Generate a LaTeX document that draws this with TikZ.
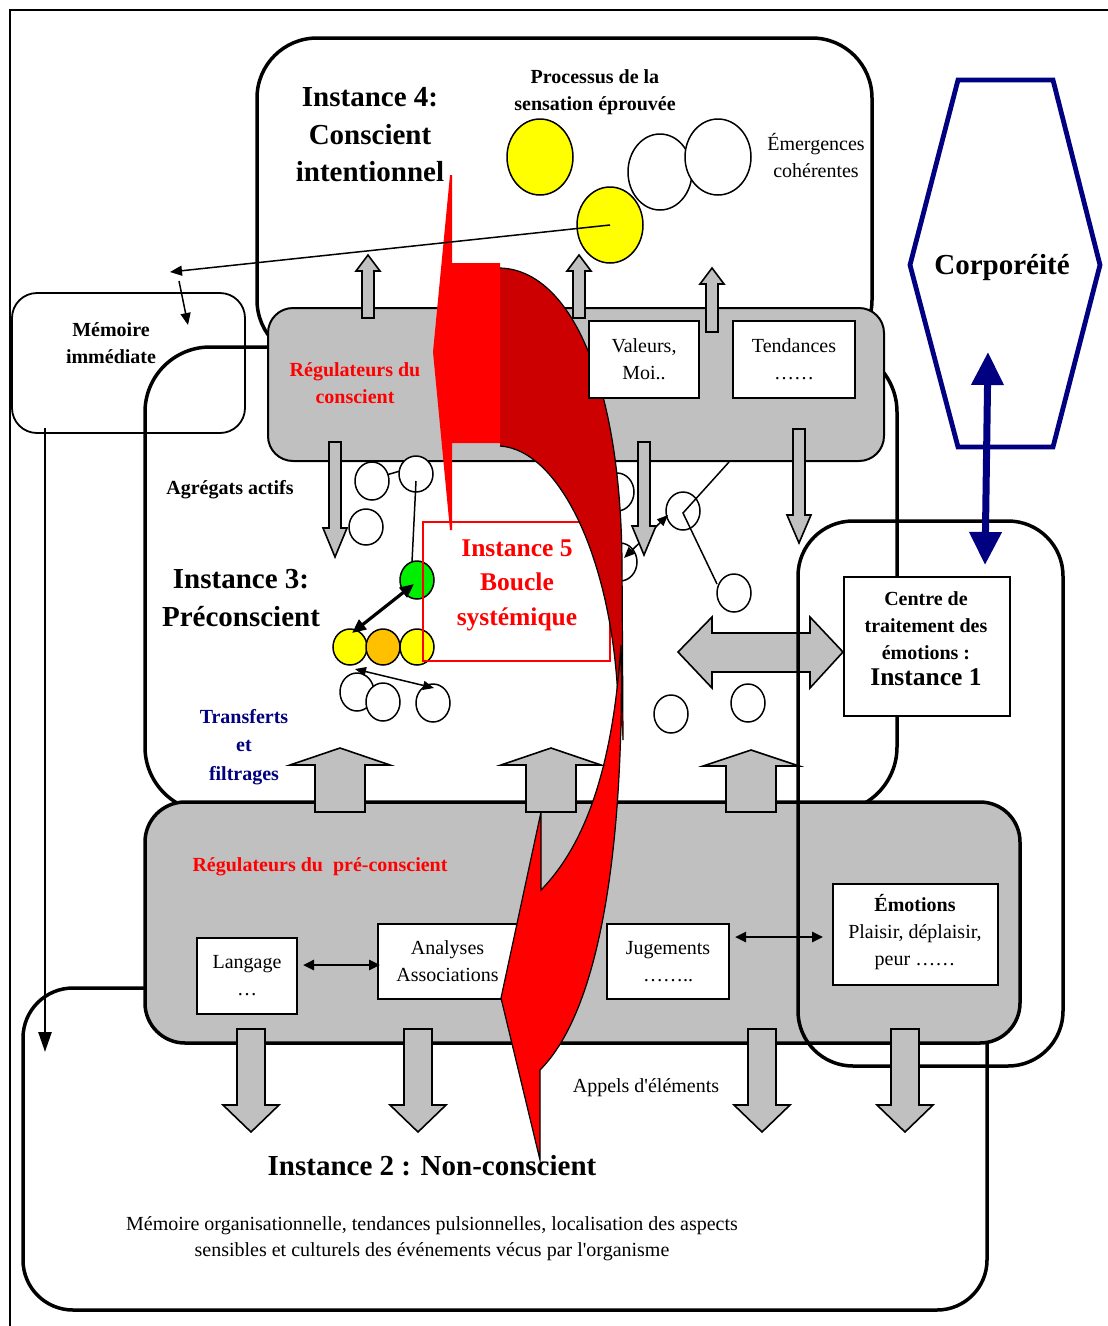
\documentclass[tikz,border=0pt]{standalone}
\usepackage{fontspec}
\setmainfont{Liberation Serif}
\usetikzlibrary{arrows.meta}
\definecolor{gr}{HTML}{C0C0C0}
\definecolor{rd}{HTML}{FF0000}
\definecolor{drd}{HTML}{CC0000}
\definecolor{nv}{HTML}{000080}
\definecolor{ylw}{HTML}{FFFF00}
\definecolor{org}{HTML}{FFC000}
\definecolor{grn}{HTML}{00EE00}
\newcommand\fbig{\fontsize{29}{37.5}\selectfont\bfseries}
\newcommand\fmid{\fontsize{20}{27}\selectfont}
\newcommand\fmidb{\fontsize{20}{27}\selectfont\bfseries}
\newcommand\ffive{\fontsize{25.5}{34.5}\selectfont\bfseries}
% block arrow: x, tip y, head base y, stem end y, head half width, stem half width
\newcommand{\vblock}[6]{\draw[garr] (#1,#2) -- (#1+#5,#3) -- (#1+#6,#3) -- (#1+#6,#4) -- (#1-#6,#4) -- (#1-#6,#3) -- (#1-#5,#3) -- cycle;}
\tikzset{
  garr/.style={fill=gr, draw=black, line width=1.6},
  circw/.style={fill=white, draw=black, line width=1.5},
  thickbox/.style={draw=black, line width=3.5},
  whitebox/.style={draw=black, fill=white, line width=1.5, inner sep=0, align=center},
  txt/.style={inner sep=0, align=center},
  sarr/.style={line width=1.5, -{Triangle[length=12pt,width=10pt]}},
  darr/.style={line width=2.5, {Triangle[length=11pt,width=10pt]}-{Triangle[length=11pt,width=10pt]}},
}
\begin{document}
\begin{tikzpicture}[x=1pt,y=-1pt,line join=miter]
\useasboundingbox (0,0) rectangle (1108,1326);
% outer frame
\draw[line width=1.5] (10,1326) -- (10,10) -- (1108,10);

% big instance boxes
\draw[thickbox, rounded corners=60] (257,38) rectangle (872,360);
\draw[thickbox, rounded corners=65] (145,347) rectangle (897,812);
\draw[thickbox, rounded corners=50] (23,988) rectangle (987,1310);
\draw[line width=1.8, rounded corners=25] (12,293) rectangle (245,433);
\node[txt, font=\fmidb] (mem) at (111,343) {Mémoire\\immédiate};

% instance 4 content
\filldraw[circw, fill=ylw] (540,157) ellipse [x radius=33, y radius=38];
\filldraw[circw] (660,172) ellipse [x radius=32, y radius=38];
\filldraw[circw] (718,157) ellipse [x radius=33, y radius=38];
\filldraw[circw, fill=ylw] (610,225) ellipse [x radius=33, y radius=38];
\node[txt, font=\fbig] (t4) at (370,135) {Instance 4:\\Conscient\\intentionnel};
\node[txt, font=\fmidb] (proc) at (595,92) {Processus de la\\sensation éprouvée};
\node[txt, font=\fmid] (emer) at (816,156) {Émergences\\cohérentes};

% conscient regulators box
\draw[fill=gr, line width=2, rounded corners=25] (268,308) rectangle (884,461);
\node[txt, text=rd, font=\fmidb] (regc) at (355,383) {Régulateurs du\\conscient};

% instance 3 content
\node[txt, font=\fmidb] (agr) at (230,490) {Agrégats actifs};
\node[txt, font=\fbig] (t3) at (241,598) {Instance 3:\\Préconscient};
\node[txt, text=nv, font={\fontsize{20}{28.5}\selectfont\bfseries}] (transf) at (244,747) {Transferts\\et\\filtrages};

\draw[line width=1.5] (383,476) -- (400,471);
\filldraw[circw] (372,481) ellipse [x radius=17, y radius=19];
\filldraw[circw] (416,474) ellipse [x radius=17, y radius=18];
\filldraw[circw] (366,527) ellipse [x radius=17, y radius=18];
\filldraw[circw, fill=grn] (417,580) ellipse [x radius=17, y radius=19];
\coordinate (c2) at (416,481);
\coordinate (gc) at (412,562);
\draw[line width=1.5] (c2) -- (gc);
\filldraw[circw, fill=ylw] (350,647) ellipse [x radius=17, y radius=18];
\filldraw[circw, fill=org] (383,647) ellipse [x radius=17, y radius=18];
\filldraw[circw, fill=ylw] (417,647) ellipse [x radius=17, y radius=18];
\coordinate (ga) at (414,584);
\coordinate (ya) at (352,633);
\draw[line width=3.2, {Triangle[length=14pt,width=12pt]}-{Triangle[length=14pt,width=12pt]}] (ga) -- (ya);
\filldraw[circw] (357,692) ellipse [x radius=17, y radius=19];
\filldraw[circw] (383,702) ellipse [x radius=17, y radius=19];
\filldraw[circw] (433,703) ellipse [x radius=17, y radius=19];
\coordinate (wa) at (355,669);
\coordinate (wb) at (434,688);
\draw[line width=1.5, {Triangle[length=11pt,width=9pt]}-{Triangle[length=11pt,width=9pt]}] (wa) -- (wb);

\filldraw[circw] (617,492) ellipse [x radius=17, y radius=19];
\filldraw[circw] (620,562) ellipse [x radius=17, y radius=19];
\filldraw[circw] (683,511) ellipse [x radius=17, y radius=19];
\coordinate (ra) at (624,558);
\coordinate (rb) at (668,515);
\draw[line width=1.5, {Triangle[length=11pt,width=9pt]}-{Triangle[length=11pt,width=9pt]}] (ra) -- (rb);
\coordinate (rl1) at (729,462);
\coordinate (rl2) at (683,513);
\coordinate (rl3) at (717,584);
\draw[line width=1.5] (rl1) -- (rl2) -- (rl3);
\filldraw[circw] (734,593) ellipse [x radius=17, y radius=19];
\filldraw[circw] (671,714) ellipse [x radius=17, y radius=19];
\filldraw[circw] (748,703) ellipse [x radius=17, y radius=19];

% horizontal double block arrow
\draw[garr] (678,652) -- (712,617) -- (712,633) -- (810,633) -- (810,617) -- (843,652) -- (810,688) -- (810,672) -- (712,672) -- (712,688) -- cycle;

% instance 5 box
\draw[rd, line width=1.5] (423,522) rectangle (610,661);
\node[txt, text=rd, font=\ffive] (i5) at (517,585) {Instance 5\\Boucle\\systémique};

% pre-conscient regulators box
\draw[fill=gr, line width=3.5, rounded corners=40] (145,802) rectangle (1020,1043);
\node[txt, text=rd, font=\fmidb] (regp) at (320,867) {Régulateurs du\ \ pré-conscient};
\node[whitebox, font=\fmid, minimum width=100, minimum height=76] (lang) at (247,976) {Langage\\…};
\node[whitebox, font=\fmid, minimum width=139, minimum height=75] (anal) at (447.5,961.5) {Analyses\\Associations};
\node[whitebox, font=\fmid, minimum width=122, minimum height=75] (jug) at (668,961.5) {Jugements\\……..};
\node[whitebox, minimum width=165, minimum height=101] (emo) at (915.5,934.5) {};
\node[txt, font=\fmid] (emot) at (915,932) {\textbf{Émotions}\\Plaisir, déplaisir,\\peur ……};
\coordinate (la) at (303,965);
\coordinate (an) at (380,965);
\draw[darr] (la) -- (an);
\coordinate (ju) at (735,937);
\coordinate (em) at (823,937);
\draw[darr] (ju) -- (em);

% red systemic loop
\fill[rd] (450,175) -- (452,175) -- (452,263) -- (500,263) -- (500,443) -- (452,443) -- (452,530) -- (450,530) -- (433,352) -- cycle;
\fill[drd] (500,268) .. controls (570,270) and (620,380) .. (622,560) -- (623,740) -- (618,700) .. controls (612,560) and (560,450) .. (500,446) -- cycle;
\draw[line width=1.2] (500,268) .. controls (570,270) and (620,380) .. (622,560) -- (623,740);
\draw[line width=1.2] (618,700) .. controls (612,560) and (560,450) .. (500,446);
\filldraw[fill=rd, line width=1.2] (541,812) -- (541,890) .. controls (580,850) and (612,780) .. (621,645) .. controls (624,800) and (610,1000) .. (540,1070) -- (540,1160) -- (501,998) -- cycle;

% boxes inside conscient regulators
\node[whitebox, font=\fmid, minimum width=110, minimum height=77] (val) at (644,359.5) {Valeurs,\\Moi..};
\node[whitebox, font=\fmid, minimum width=122, minimum height=77] (tend) at (794,359.5) {Tendances\\……};

% small grey arrows of conscient box
\vblock{368}{255}{271}{318}{12}{6}
\vblock{579}{255}{271}{318}{12}{6}
\vblock{712}{268}{284}{332}{12}{6}
\vblock{335}{557}{528}{442}{12}{6}
\vblock{644}{555}{526}{442}{12}{6}
\vblock{799}{543}{515}{429}{12}{6}

% transfer arrows
\vblock{340}{748}{765}{812}{50}{25}
\vblock{551}{748}{765}{812}{50}{25}
\vblock{751}{750}{766}{812}{48}{25}

% line from sensation to memory
\coordinate (ysc) at (610,225);
\coordinate (memin) at (170,272);
\draw[sarr] (ysc) -- (memin);
\coordinate (ma) at (179,281);
\coordinate (mb) at (188,325);
\draw[sarr] (ma) -- (mb);

% instance 1
\draw[thickbox, rounded corners=55] (798,521) rectangle (1063,1066);
\node[whitebox, minimum width=166, minimum height=139] (ctr) at (927,646.5) {};
\node[txt, font=\fmidb] (ctrt) at (926,639) {Centre de\\traitement des\\émotions :\\[-1pt]\ffive Instance 1};

% appels arrows
\vblock{251}{1132}{1105}{1029}{28}{14}
\vblock{418}{1132}{1105}{1029}{28}{14}
\vblock{762}{1132}{1105}{1029}{28}{14}
\vblock{905}{1132}{1105}{1029}{28}{14}

% corporeite
\draw[nv, line width=4.8] (958,80) -- (1053,80) -- (1100,265) -- (1053,447) -- (958,447) -- (910,265) -- cycle;
\node[txt, font=\fbig] (corp) at (1002,268) {Corporéité};
\coordinate (ca) at (988,352);
\coordinate (cb) at (985,565);
\draw[nv, line width=7, {Triangle[length=33pt,width=31pt]}-{Triangle[length=33pt,width=31pt]}] (ca) -- (cb);

% memory down arrow
\coordinate (md1) at (45,428);
\coordinate (md2) at (45,1052);
\draw[line width=2.5, -{Triangle[length=20pt,width=13pt]}] (md1) -- (md2);

% instance 2 texts
\node[txt, font=\fmid] (app) at (646,1088) {Appels d\textquotesingle éléments};
\node[txt, font=\fbig] (t2) at (432,1166) {Instance 2 : Non-conscient};
\node[txt, font={\fontsize{20}{26}\selectfont}] (t2b) at (432,1239) {Mémoire organisationnelle, tendances pulsionnelles, localisation des aspects\\sensibles et culturels des événements vécus par l\textquotesingle organisme};
\end{tikzpicture}
\end{document}
